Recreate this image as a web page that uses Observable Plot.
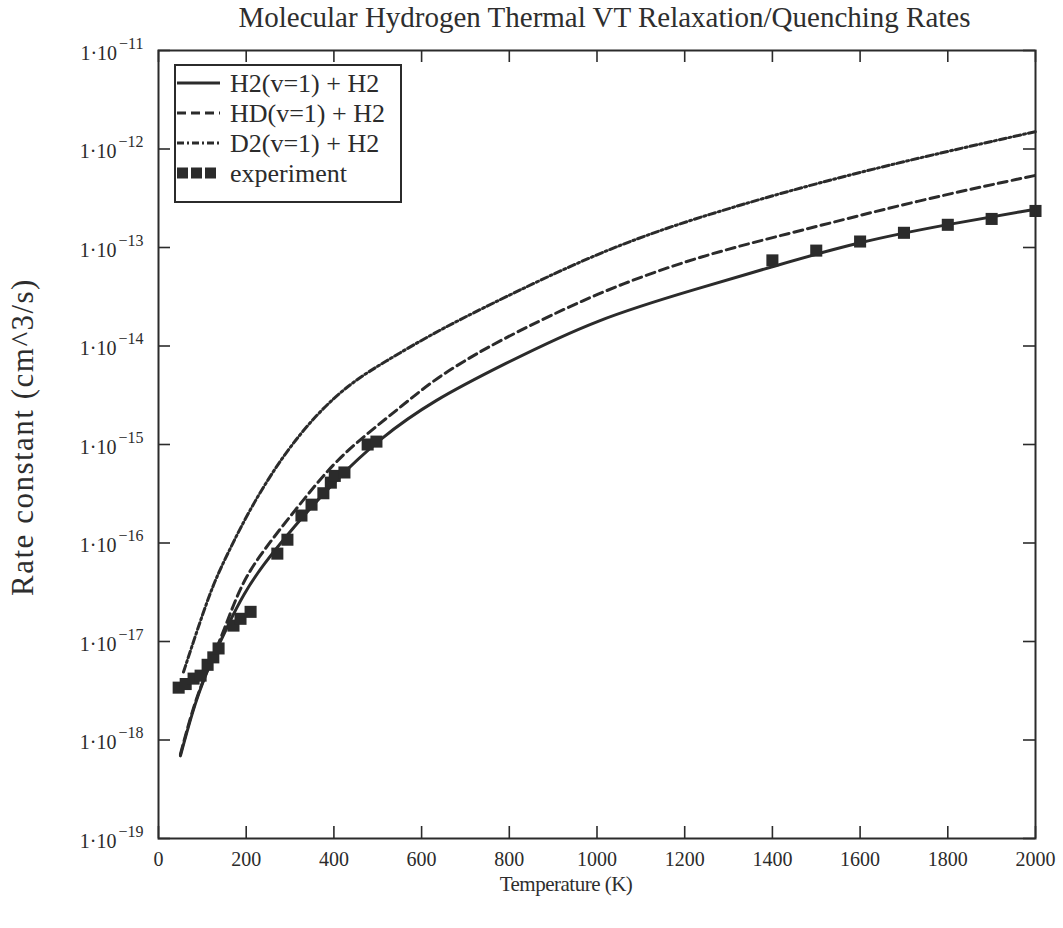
<!DOCTYPE html>
<html><head><meta charset="utf-8">
<script src="https://cdn.jsdelivr.net/npm/d3@7"></script>
<script src="https://cdn.jsdelivr.net/npm/@observablehq/plot@0.6"></script>
<style>
body{margin:0;background:#fff;font-family:"Liberation Serif","Times New Roman",serif;color:#2e2e2e}
#wrap{position:relative;width:1063px;height:928px;overflow:hidden}
#title{position:absolute;top:0px;left:146px;right:0;text-align:center;font-size:29px;line-height:34px;white-space:nowrap}
#ylabel{position:absolute;left:22px;top:437px;transform:translate(-50%,-50%) rotate(-90deg);white-space:nowrap;font-size:31px;letter-spacing:1.5px;line-height:1}
#xlabel{position:absolute;top:874px;left:566px;transform:translateX(-50%);font-size:21px;letter-spacing:-0.5px;line-height:1;white-space:nowrap}
#legend{position:absolute;left:174px;top:64px}
</style></head><body>
<div id="wrap">
<div id="chart"></div>
<div id="title">Molecular Hydrogen Thermal VT Relaxation/Quenching Rates</div>
<div id="ylabel">Rate constant (cm^3/s)</div>
<div id="xlabel">Temperature (K)</div>
<svg id="legend" width="228" height="139"></svg>
</div>
<script>
// ---- data ----
const tempH2 = [50, 84, 120, 164, 194, 233, 308, 400, 506, 627, 780, 1000, 1236, 1400, 1600, 1800, 2000];
const rateH2 = [6.9e-19, 2.5e-18, 6.3e-18, 1.66e-17, 3.0e-17, 5.6e-17, 1.45e-16, 4.2e-16, 1.17e-15, 2.8e-15, 6.3e-15, 1.9e-14, 3.9e-14, 6.4e-14, 1.15e-13, 1.72e-13, 2.45e-13];

const tempHD = [50, 84, 120, 150, 182, 220, 323, 399, 476, 552, 627, 705, 780, 1000, 1236, 1464, 1731, 2000];
const rateHD = [7.2e-19, 2.6e-18, 6.3e-18, 1.32e-17, 3.2e-17, 6.6e-17, 2.5e-16, 6.5e-16, 1.29e-15, 2.4e-15, 4.5e-15, 7.4e-15, 1.15e-14, 3.5e-14, 8.3e-14, 1.48e-13, 3.0e-13, 5.4e-13];

const tempD2 = [57, 118, 153, 210, 285, 363, 438, 513, 627, 741, 1000, 1236, 1600, 2000];
const rateD2 = [4.9e-18, 3.3e-17, 7.1e-17, 2.3e-16, 7.9e-16, 2.1e-15, 4.2e-15, 6.8e-15, 1.35e-14, 2.45e-14, 8.9e-14, 2.1e-13, 6.0e-13, 1.5e-12];

const tempExp = [46, 62, 80, 96, 112, 125, 137, 171, 187, 210, 271, 294, 326, 349, 376, 393, 402, 424, 477, 497, 1400, 1500, 1600, 1700, 1800, 1900, 2000];
const rateExp = [3.4e-18, 3.7e-18, 4.2e-18, 4.5e-18, 5.8e-18, 6.9e-18, 8.5e-18, 1.45e-17, 1.7e-17, 2.0e-17, 7.8e-17, 1.08e-16, 1.9e-16, 2.45e-16, 3.2e-16, 4.1e-16, 4.8e-16, 5.2e-16, 1.0e-15, 1.07e-15, 7.4e-14, 9.3e-14, 1.15e-13, 1.41e-13, 1.7e-13, 1.95e-13, 2.35e-13];

const xTicks = [0, 200, 400, 600, 800, 1000, 1200, 1400, 1600, 1800, 2000];
const yTicks = [1e-19, 1e-18, 1e-17, 1e-16, 1e-15, 1e-14, 1e-13, 1e-12, 1e-11];
const seriesNames = ["H2(v=1) + H2", "HD(v=1) + H2", "D2(v=1) + H2", "experiment"];

// ---- build ----
const ink = "#2b2b2b";
const W = 1063, H = 928, mL = 158, mR = 28, mT = 50, mB = 90;
const plotW = W - mL - mR, plotH = H - mT - mB, tick = 12;
const rows = (t, k) => t.map((x, i) => ({T: x, k: k[i]}));
const dH2 = rows(tempH2, rateH2), dHD = rows(tempHD, rateHD), dD2 = rows(tempD2, rateD2), dExp = rows(tempExp, rateExp);
const styles = {
  H2: {stroke: ink, strokeWidth: 3},
  HD: {stroke: ink, strokeWidth: 3, strokeDasharray: "9,5"},
  D2: {stroke: ink, strokeWidth: 3, strokeDasharray: "7,3,2,3"}
};

const chart = Plot.plot({
  width: W, height: H,
  marginLeft: mL, marginRight: mR, marginTop: mT, marginBottom: mB,
  style: {fontFamily: '"Liberation Serif", serif', color: ink, background: "transparent", overflow: "visible"},
  x: {domain: [0, 2000]},
  y: {type: "log", domain: [1e-19, 1e-11]},
  marks: [
    Plot.line(dH2, {x: "T", y: "k", curve: "basis", ...styles.H2}),
    Plot.line(dHD, {x: "T", y: "k", curve: "basis", ...styles.HD}),
    Plot.line(dD2, {x: "T", y: "k", curve: "basis", ...styles.D2}),
    Plot.dot(dExp, {x: "T", y: "k", symbol: "square", r: 6.8, fill: ink, stroke: null}),
    Plot.tickY(yTicks, {y: d => d, stroke: ink, strokeWidth: 1.6, insetRight: plotW - tick}),
    Plot.tickY(yTicks, {y: d => d, stroke: ink, strokeWidth: 1.6, insetLeft: plotW - tick}),
    Plot.tickX(xTicks, {x: d => d, stroke: ink, strokeWidth: 1.6, insetTop: plotH - tick}),
    Plot.tickX(xTicks, {x: d => d, stroke: ink, strokeWidth: 1.6, insetBottom: plotH - tick}),
    Plot.frame({stroke: ink, strokeWidth: 2}),
    Plot.axisX({ticks: xTicks, tickSize: 0, tickPadding: 13, fontSize: 20, label: null, tickFormat: d => String(d)}),
    Plot.axisY({ticks: yTicks, tickSize: 0, tickPadding: 15, fontSize: 20, label: null,
      tickFormat: d => "−" + String(Math.round(-Math.log10(d)))})
  ]
});
document.getElementById("chart").appendChild(chart);

// superscript exponents on y tick labels
d3.select(chart).selectAll('g[aria-label="y-axis tick label"] text').each(function () {
  const e = this.textContent;
  const t = d3.select(this);
  t.text(null);
  t.append("tspan").attr("dy", "3").text("1·10");
  t.append("tspan").attr("dy", "-11").attr("font-size", "16px").attr("dx", "2").text(e);
});

// legend
const lg = d3.select("#legend");
lg.append("rect").attr("x", 1).attr("y", 1).attr("width", 226).attr("height", 137)
  .attr("fill", "#fff").attr("stroke", ink).attr("stroke-width", 2);
const rowY = [19, 49, 79, 109];
const keys = ["H2", "HD", "D2"];
keys.forEach((k, i) => {
  const s = styles[k];
  lg.append("line").attr("x1", 3).attr("x2", 46).attr("y1", rowY[i]).attr("y2", rowY[i])
    .attr("stroke", s.stroke).attr("stroke-width", s.strokeWidth)
    .attr("stroke-dasharray", s.strokeDasharray || null);
});
[0, 1, 2].forEach(j => {
  lg.append("rect").attr("x", 3 + j * 14).attr("y", rowY[3] - 5.5).attr("width", 11).attr("height", 11).attr("fill", ink);
});
seriesNames.forEach((n, i) => {
  lg.append("text").attr("x", 56).attr("y", rowY[i]).attr("dy", "0.33em")
    .attr("font-size", 26).attr("font-family", '"Liberation Serif", serif').attr("fill", ink).text(n);
});
</script>
</body></html>
